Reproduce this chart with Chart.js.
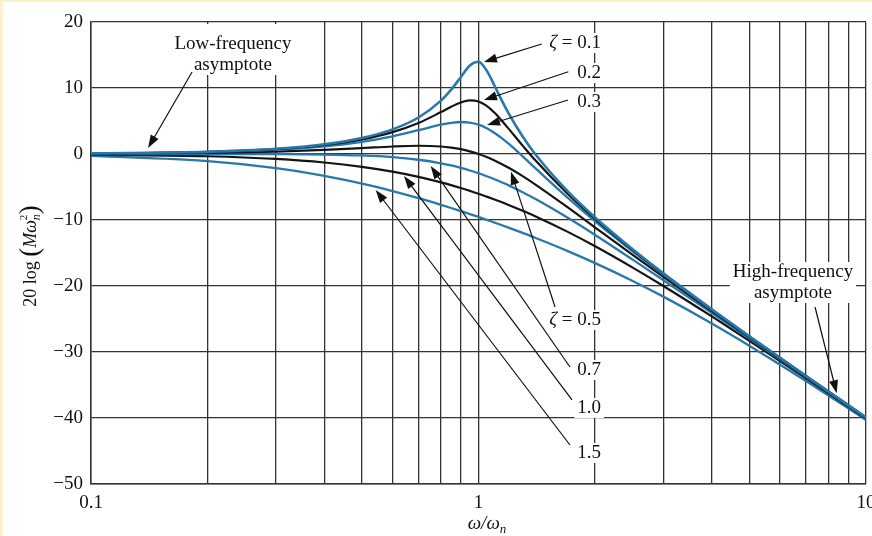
<!DOCTYPE html>
<html>
<head>
<meta charset="utf-8">
<script src="https://cdn.jsdelivr.net/npm/chart.js@4/dist/chart.umd.min.js"></script>
<style>
  html, body { margin: 0; padding: 0; background: #fff; overflow: hidden; }
  #wrap { position: relative; width: 872px; height: 536px; }
</style>
</head>
<body>
<div id="wrap"><canvas id="bode" width="872" height="536"></canvas></div>
<script>
// --- DATA ---

// normalised frequency w/wn (log axis)
const omegaRatio = [0.1, 0.2, 0.3, 0.4, 0.5, 0.6, 0.7, 0.8, 0.85, 0.9, 0.95, 1.0, 1.05, 1.1, 1.15, 1.2, 1.3, 1.4, 1.7, 2, 2.5, 3, 4, 5, 7, 10];

// 20 log(M wn^2) in dB, one list per damping ratio
const zeta01 = [0.09, 0.35, 0.80, 1.48, 2.42, 3.73, 5.53, 8.09, 9.75, 11.64, 13.41, 13.98, 12.63, 10.34, 8.04, 6.00, 2.65, 0.00, -5.67, -9.62, -14.44, -18.09, -23.53, -27.61, -33.63, -39.91];
const zeta02 = [0.08, 0.33, 0.74, 1.36, 2.20, 3.31, 4.70, 6.35, 7.15, 7.81, 8.13, 7.96, 7.28, 6.24, 5.01, 3.73, 1.27, -0.92, -6.06, -9.84, -14.56, -18.16, -23.57, -27.63, -33.64, -39.92];
const zeta03 = [0.07, 0.29, 0.65, 1.17, 1.85, 2.68, 3.60, 4.44, 4.72, 4.85, 4.76, 4.44, 3.90, 3.19, 2.37, 1.48, -0.35, -2.11, -6.64, -10.19, -14.74, -18.28, -23.63, -27.67, -33.66, -39.93];
const zeta05 = [0.04, 0.17, 0.37, 0.63, 0.90, 1.14, 1.25, 1.14, 0.97, 0.73, 0.40, 0.00, -0.47, -0.98, -1.54, -2.13, -3.36, -4.60, -8.10, -11.14, -15.29, -18.63, -23.82, -27.79, -33.72, -39.96];
const zeta07 = [0.00, 0.00, -0.02, -0.08, -0.22, -0.47, -0.87, -1.41, -1.74, -2.11, -2.50, -2.92, -3.37, -3.83, -4.31, -4.79, -5.79, -6.78, -9.66, -12.26, -16.00, -19.12, -24.09, -27.96, -33.80, -40.00];
const zeta10 = [-0.09, -0.34, -0.75, -1.29, -1.94, -2.67, -3.46, -4.30, -4.72, -5.15, -5.59, -6.02, -6.46, -6.89, -7.32, -7.75, -8.60, -9.43, -11.80, -13.98, -17.21, -20.00, -24.61, -28.30, -33.98, -40.09];
const zeta15 = [-0.29, -1.08, -2.14, -3.32, -4.49, -5.62, -6.69, -7.70, -8.18, -8.65, -9.10, -9.54, -9.97, -10.39, -10.79, -11.19, -11.96, -12.69, -14.71, -16.53, -19.23, -21.61, -25.67, -29.04, -34.39, -40.29];

// axis ticks
const xGridValues = [0.1, 0.2, 0.3, 0.4, 0.5, 0.6, 0.7, 0.8, 0.9, 1, 2, 3, 4, 5, 6, 7, 8, 9, 10];
const xLabelValues = [0.1, 1, 10];
const xLabelTexts = ['0.1', '1', '10'];
const yMin = -50, yMax = 20, yStep = 10;

// --- STYLE ---
const serif = '"Liberation Serif", "Times New Roman", serif';
const blue = '#2878ab';
const black = '#141414';
const gridColor = '#333333';

const curves = [
    { label: 'ζ = 0.1', values: zeta01, color: blue, width: 2.6 },
    { label: 'ζ = 0.2', values: zeta02, color: black, width: 2.2 },
    { label: 'ζ = 0.3', values: zeta03, color: blue, width: 2.3 },
    { label: 'ζ = 0.5', values: zeta05, color: black, width: 2.2 },
    { label: 'ζ = 0.7', values: zeta07, color: blue, width: 2.3 },
    { label: 'ζ = 1.0', values: zeta10, color: black, width: 2.2 },
    { label: 'ζ = 1.5', values: zeta15, color: blue, width: 2.3 }
];

// annotation text + arrows, anchored in data coordinates
const noteTexts = [
    { lines: [[{ t: 'Low-frequency' }], [{ t: 'asymptote' }]], x: 0.2325, y: 16.67, align: 'center', padTop: 10 },
    { lines: [[{ t: 'High-frequency' }], [{ t: 'asymptote' }]], x: 6.48, y: -17.88, align: 'center', padTop: 0 },
    { lines: [[{ t: 'ζ', italic: true }, { t: ' = 0.1' }]], x: 2.071, y: 16.82, align: 'right' },
    { lines: [[{ t: '0.2' }]], x: 2.071, y: 12.27, align: 'right' },
    { lines: [[{ t: '0.3' }]], x: 2.071, y: 7.88, align: 'right' },
    { lines: [[{ t: 'ζ', italic: true }, { t: ' = 0.5' }]], x: 2.071, y: -25.15, align: 'right' },
    { lines: [[{ t: '0.7' }]], x: 2.071, y: -32.73, align: 'right' },
    { lines: [[{ t: '1.0' }]], x: 2.071, y: -38.48, align: 'right' },
    { lines: [[{ t: '1.5' }]], x: 2.071, y: -45.30, align: 'right' }
];
const noteArrows = [
    { from: [0.1823, 12.42], to: [0.1404, 0.91] },
    { from: [1.456, 16.67], to: [1.033, 13.94] },
    { from: [1.705, 12.47], to: [1.033, 8.18] },
    { from: [1.702, 8.18], to: [1.052, 4.39] },
    { from: [1.576, -23.18], to: [1.213, -2.68] },
    { from: [1.722, -32.27], to: [0.7527, -1.82] },
    { from: [1.743, -37.27], to: [0.6423, -3.33] },
    { from: [1.722, -44.09], to: [0.5429, -5.45] },
    { from: [7.386, -23.18], to: [8.403, -36.26] }
];

// --- HELPERS FOR MIXED (ITALIC / SUB / SUP) TEXT ---
function fontOf(p) {
    return (p.italic ? 'italic ' : '') + (p.size || 19) + 'px ' + serif;
}

function richWidth(ctx, parts) {
    let w = 0;
    parts.forEach(p => {
        ctx.font = fontOf(p);
        if (p.adv !== false) w += ctx.measureText(p.t).width;
    });
    return w;
}

function drawRich(ctx, parts, x, y, align) {
    const w = richWidth(ctx, parts);
    let cx = align === 'right' ? x - w : (align === 'left' ? x : x - w / 2);
    ctx.textAlign = 'left';
    parts.forEach(p => {
        ctx.font = fontOf(p);
        ctx.fillText(p.t, cx, y + (p.dy || 0));
        if (p.adv !== false) cx += ctx.measureText(p.t).width;
    });
    return w;
}

function drawArrow(ctx, x1, y1, x2, y2) {
    const a = Math.atan2(y2 - y1, x2 - x1);
    const len = 13, half = 4.5;
    ctx.beginPath();
    ctx.moveTo(x1, y1);
    ctx.lineTo(x2 - Math.cos(a) * len * 0.8, y2 - Math.sin(a) * len * 0.8);
    ctx.stroke();
    ctx.beginPath();
    ctx.moveTo(x2, y2);
    ctx.lineTo(x2 - len * Math.cos(a) + half * Math.sin(a), y2 - len * Math.sin(a) - half * Math.cos(a));
    ctx.lineTo(x2 - len * Math.cos(a) - half * Math.sin(a), y2 - len * Math.sin(a) + half * Math.cos(a));
    ctx.closePath();
    ctx.fill();
}

// white page with the thin yellow strip on top/left
const paperPlugin = {
    id: 'paper',
    beforeDraw(chart) {
        const ctx = chart.ctx;
        ctx.save();
        ctx.fillStyle = '#ffffff';
        ctx.fillRect(0, 0, chart.width, chart.height);
        ctx.fillStyle = '#fbf2c9';
        ctx.fillRect(0, 0, chart.width, 2);
        ctx.fillRect(0, 0, 3, chart.height);
        ctx.restore();
    }
};

// labels, arrows and axis titles
const notesPlugin = {
    id: 'notes',
    afterDatasetsDraw(chart) {
        const ctx = chart.ctx;
        const xs = chart.scales.x, ys = chart.scales.y;
        const lineH = 21;
        ctx.save();
        ctx.textBaseline = 'middle';

        noteTexts.forEach(n => {
            const px = xs.getPixelForValue(n.x);
            const py = ys.getPixelForValue(n.y);
            const widths = n.lines.map(l => richWidth(ctx, l));
            const w = Math.max(...widths);
            let left = n.align === 'right' ? px - w : px - w / 2;
            const top = py - 10 - (n.padTop || 0);
            const bottom = py + (n.lines.length - 1) * lineH + 10;
            ctx.fillStyle = '#ffffff';
            ctx.fillRect(left - 3, top, w + 6, bottom - top);
            ctx.fillStyle = '#111';
            n.lines.forEach((l, i) => drawRich(ctx, l, px, py + i * lineH, n.align));
        });

        ctx.strokeStyle = '#111';
        ctx.fillStyle = '#111';
        ctx.lineWidth = 1.2;
        noteArrows.forEach(a => {
            drawArrow(ctx,
                xs.getPixelForValue(a.from[0]), ys.getPixelForValue(a.from[1]),
                xs.getPixelForValue(a.to[0]), ys.getPixelForValue(a.to[1]));
        });

        // x title: w/wn
        ctx.textBaseline = 'alphabetic';
        ctx.fillStyle = '#111';
        drawRich(ctx, [
            { t: 'ω/ω', italic: true },
            { t: 'n', italic: true, size: 13, dy: 4 }
        ], 487, 529, 'center');

        // y title: 20 log (M wn^2), rotated
        ctx.translate(36, 256);
        ctx.rotate(-Math.PI / 2);
        drawRich(ctx, [
            { t: '20 log ', size: 18 },
            { t: '(', size: 27, dy: 2 },
            { t: 'Mω', italic: true, size: 18 },
            { t: '2', size: 11, dy: -9, adv: false },
            { t: 'n', italic: true, size: 12, dy: 4 },
            { t: ')', size: 27, dy: 2 }
        ], 0, 0, 'center');
        ctx.restore();
    }
};

// --- CHART ---
const ctx = document.getElementById('bode');

new Chart(ctx, {
    type: 'line',
    data: {
        datasets: curves.map(c => ({
            label: c.label,
            data: omegaRatio.map((x, i) => ({ x: x, y: c.values[i] })),
            borderColor: c.color,
            borderWidth: c.width,
            pointRadius: 0,
            fill: false,
            cubicInterpolationMode: 'monotone'
        }))
    },
    options: {
        responsive: false,
        animation: false,
        devicePixelRatio: 1,
        layout: { padding: { top: 22, right: 6, left: 0, bottom: 0 } },
        plugins: {
            legend: { display: false },
            tooltip: { enabled: false }
        },
        scales: {
            x: {
                type: 'logarithmic',
                min: 0.1,
                max: 10,
                afterBuildTicks: scale => {
                    scale.ticks = xGridValues.map(v => ({ value: v }));
                },
                afterFit: scale => {
                    scale.height = 52;
                    scale.paddingRight = 0;
                    scale.paddingLeft = 0;
                },
                grid: { color: gridColor, lineWidth: 1.3, drawTicks: false },
                border: { color: gridColor, width: 1.5 },
                ticks: {
                    autoSkip: false,
                    maxRotation: 0,
                    padding: 8,
                    color: '#111',
                    font: { family: serif, size: 19 },
                    callback: value => {
                        const k = xLabelValues.findIndex(v => Math.abs(v - value) < 1e-9);
                        return k >= 0 ? xLabelTexts[k] : '';
                    }
                }
            },
            y: {
                min: yMin,
                max: yMax,
                afterFit: scale => {
                    scale.width = 91;
                },
                grid: { color: gridColor, lineWidth: 1.3, drawTicks: false },
                border: { color: gridColor, width: 1.5 },
                ticks: {
                    stepSize: yStep,
                    padding: 8,
                    color: '#111',
                    font: { family: serif, size: 19 },
                    callback: value => value < 0 ? '\u2212' + Math.abs(value) : String(value)
                }
            }
        }
    },
    plugins: [paperPlugin, notesPlugin]
});
</script>
</body>
</html>
